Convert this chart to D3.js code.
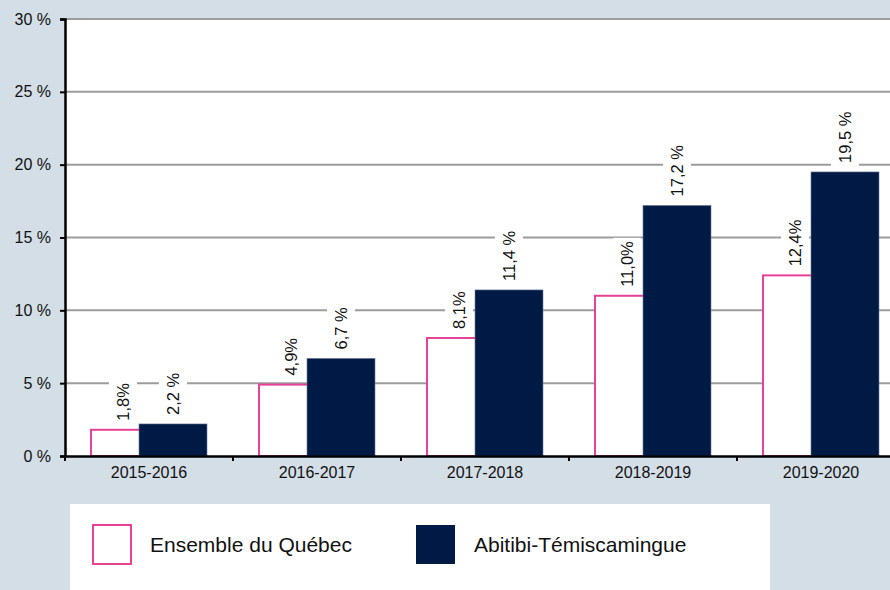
<!DOCTYPE html>
<html>
<head>
<meta charset="utf-8">
<script src="https://cdn.jsdelivr.net/npm/d3@7"></script>
<style>
  body { margin: 0; background: #d3dee6; }
  svg { display: block; font-family: "Liberation Sans", Arial, sans-serif; }
</style>
</head>
<body>
<div id="chart"></div>
<script>
const categories = ["2015-2016", "2016-2017", "2017-2018", "2018-2019", "2019-2020"];
const quebecValues = [1.8, 4.9, 8.1, 11.0, 12.4];
const abitibiValues = [2.2, 6.7, 11.4, 17.2, 19.5];
const quebecLabels = ["1,8%", "4,9%", "8,1%", "11,0%", "12,4%"];
const abitibiLabels = ["2,2 %", "6,7 %", "11,4 %", "17,2 %", "19,5 %"];
const yTicks = [0, 5, 10, 15, 20, 25, 30];
const seriesNames = ["Ensemble du Québec", "Abitibi-Témiscamingue"];

const W = 890, H = 590;
const pink = "#e8419a", navy = "#001a46";

const svg = d3.select("#chart").append("svg")
  .attr("width", W)
  .attr("height", H);

svg.append("rect").attr("width", W).attr("height", H).attr("fill", "#d3dee6");

const x = d3.scaleBand().domain(categories).range([65, 905]).padding(0);
const y = d3.scaleLinear().domain([0, 30]).range([456, 19]);
const sub = d3.scaleOrdinal().domain(["q", "a"]).range([26, 74]);
const barW = 68;

// plot area
svg.append("rect")
  .attr("x", 65).attr("y", y(30))
  .attr("width", W - 65).attr("height", y(0) - y(30))
  .attr("fill", "#fff");

// gridlines
svg.append("g").selectAll("line")
  .data(yTicks.filter(d => d > 0))
  .enter().append("line")
  .attr("x1", 65).attr("x2", W)
  .attr("y1", d => y(d)).attr("y2", d => y(d))
  .attr("stroke", "#9c9c9c")
  .attr("stroke-width", 2);

const rows = categories.map((c, i) => ({
  cat: c, q: quebecValues[i], a: abitibiValues[i], ql: quebecLabels[i], al: abitibiLabels[i]
}));

// Ensemble du Québec bars
svg.append("g").selectAll("rect")
  .data(rows)
  .enter().append("rect")
  .attr("x", d => x(d.cat) + sub("q"))
  .attr("y", d => y(d.q))
  .attr("width", barW)
  .attr("height", d => y(0) - y(d.q))
  .attr("fill", "#fff")
  .attr("stroke", pink)
  .attr("stroke-width", 2);

// Abitibi bars
svg.append("g").selectAll("rect")
  .data(rows)
  .enter().append("rect")
  .attr("x", d => x(d.cat) + sub("a"))
  .attr("y", d => y(d.a))
  .attr("width", barW)
  .attr("height", d => y(0) - y(d.a))
  .attr("fill", navy)
  .attr("stroke", "#6b7a98")
  .attr("stroke-width", 0.6);

// data labels (rotated, with white backing)
const labels = [];
rows.forEach(d => {
  labels.push({ cx: x(d.cat) + sub("q") + barW / 2 - 2, top: y(d.q), text: d.ql });
  labels.push({ cx: x(d.cat) + sub("a") + barW / 2, top: y(d.a), text: d.al });
});

const lg = svg.append("g").selectAll("g")
  .data(labels)
  .enter().append("g")
  .attr("transform", d => `translate(${d.cx},${d.top - 9}) rotate(-90)`);

lg.append("text")
  .attr("text-anchor", "start")
  .attr("dy", "0.36em")
  .style("font-size", "16.5px")
  .style("fill", "#111")
  .text(d => d.text);

lg.each(function() {
  const g = d3.select(this);
  const bb = g.select("text").node().getBBox();
  g.insert("rect", "text")
    .attr("x", bb.x - 3).attr("y", bb.y - 5)
    .attr("width", bb.width + 6).attr("height", bb.height + 10)
    .attr("fill", "#fff");
});

// y axis
const yAxis = svg.append("g")
  .attr("transform", "translate(65,0)")
  .call(d3.axisLeft(y).tickValues(yTicks).tickSize(5).tickPadding(9).tickFormat(d => d + " %"));
yAxis.select(".domain").attr("stroke", "#000").attr("stroke-width", 2.5);
yAxis.selectAll(".tick line").attr("stroke", "#000").attr("stroke-width", 2);
yAxis.selectAll("text").style("font-size", "16px").style("fill", "#111").attr("font-family", null);

// x axis
const xAxis = svg.append("g")
  .attr("transform", `translate(0,${y(0)})`)
  .call(d3.axisBottom(x).tickSize(0).tickPadding(11));
xAxis.select(".domain").attr("stroke", "#000").attr("stroke-width", 2.5);
xAxis.selectAll("text").style("font-size", "16px").style("fill", "#111").attr("font-family", null);

xAxis.selectAll("line.bound")
  .data(categories)
  .enter().append("line")
  .attr("class", "bound")
  .attr("x1", d => x(d)).attr("x2", d => x(d))
  .attr("y1", 0).attr("y2", 5)
  .attr("stroke", "#000")
  .attr("stroke-width", 2);

// legend
const legend = svg.append("g");
legend.append("rect")
  .attr("x", 70).attr("y", 504)
  .attr("width", 700).attr("height", H - 504)
  .attr("fill", "#fff");

const legendX = d3.scaleOrdinal().domain(seriesNames).range([92, 416]);
const items = legend.selectAll("g.item")
  .data(seriesNames)
  .enter().append("g")
  .attr("class", "item")
  .attr("transform", d => `translate(${legendX(d)},525)`);

items.append("rect")
  .attr("x", (d, i) => i === 0 ? 1 : 0)
  .attr("y", 0)
  .attr("width", (d, i) => i === 0 ? 38 : 39)
  .attr("height", 39)
  .attr("fill", (d, i) => i === 0 ? "#fff" : navy)
  .attr("stroke", (d, i) => i === 0 ? pink : "none")
  .attr("stroke-width", 2);

items.append("text")
  .attr("x", 58)
  .attr("y", 20)
  .attr("dy", "0.35em")
  .style("font-size", "21px")
  .style("fill", "#111")
  .text(d => d);
</script>
</body>
</html>
